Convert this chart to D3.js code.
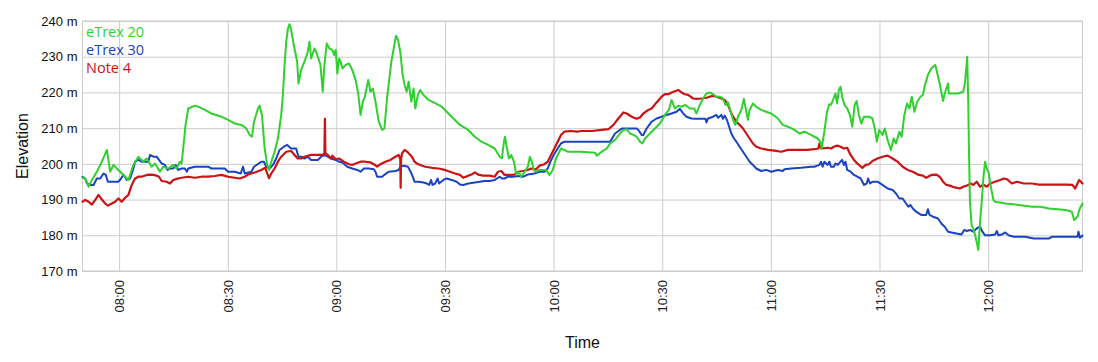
<!DOCTYPE html>
<html>
<head>
<meta charset="utf-8">
<script src="https://cdn.jsdelivr.net/npm/d3@7"></script>
<style>
  html, body { margin: 0; padding: 0; background: #fff; }
  svg { display: block; }
</style>
</head>
<body>
<svg id="chart" width="1098" height="362"></svg>
<script>
// ---------------- DATA ----------------
const seriesNames = ["eTrex 20", "eTrex 30", "Note 4"];
const seriesColors = ["#2fd02f", "#1a43c4", "#cc1212"];
const yTickValues = [170, 180, 190, 200, 210, 220, 230, 240];
const xTickLabels = ["08:00", "08:30", "09:00", "09:30", "10:00", "10:30", "11:00", "11:30", "12:00"];
const timeDomain = ["07:49:53", "12:26:04"];
const elevDomain = [170, 240];

const etrex20 = [
["07:49:53",196.1],["07:50:38",195.9],["07:51:34",193.6],["07:52:29",195.5],["07:53:51",197.8],
["07:55:14",200.6],["07:56:37",203.9],["07:57:31",197.8],["07:58:26",199.7],["07:59:22",198.7],
["08:00:17",197.8],["08:02:34",195.5],["08:03:57",199.7],["08:05:19",202.0],["08:06:42",200.6],
["08:07:37",201.5],["08:08:59",199.2],["08:09:55",200.1],["08:11:17",197.8],["08:12:12",199.2],
["08:13:35",198.7],["08:14:57",199.7],["08:15:52",198.7],["08:16:47",200.6],["08:17:15",200.1],
["08:17:42",204.3],["08:18:21",210.9],["08:19:05",215.5],["08:20:55",216.3],["08:21:50",216.0],
["08:23:40",215.1],["08:25:30",214.1],["08:28:15",213.2],["08:30:05",212.3],["08:31:56",211.3],
["08:33:46",210.9],["08:35:08",209.9],["08:36:03",208.1],["08:36:42",207.6],["08:37:15",211.8],
["08:38:21",215.5],["08:38:48",216.3],["08:39:27",213.7],["08:40:11",204.3],["08:40:55",199.7],
["08:41:23",198.3],["08:42:01",200.6],["08:42:56",203.4],["08:43:51",207.1],["08:44:46",213.7],
["08:45:14",219.3],["08:45:41",227.7],["08:46:09",234.2],["08:46:37",237.9],["08:47:04",239.1],
["08:47:31",237.5],["08:47:59",234.7],["08:48:26",232.3],["08:49:10",228.6],["08:49:32",222.5],
["08:50:17",226.3],["08:51:11",228.6],["08:52:07",231.4],["08:52:34",234.2],["08:53:02",229.5],
["08:53:56",232.3],["08:54:24",231.4],["08:55:03",229.5],["08:55:36",227.7],["08:56:14",220.2],
["08:56:42",227.7],["08:57:20",233.7],["08:58:04",232.3],["08:58:54",231.9],["08:59:22",230.5],
["08:59:49",231.9],["09:00:16",225.3],["09:00:44",229.5],["09:01:11",228.6],["09:01:39",226.7],
["09:02:34",227.7],["09:03:29",228.1],["09:04:23",226.3],["09:05:18",223.5],["09:06:02",219.7],
["09:06:41",213.7],["09:07:19",217.4],["09:07:52",218.8],["09:08:47",223.5],["09:09:25",220.2],
["09:10:04",221.1],["09:10:48",217.4],["09:11:43",211.8],["09:12:38",209.5],["09:13:16",209.9],
["09:14:00",218.4],["09:15:11",228.6],["09:15:50",232.3],["09:16:28",235.9],["09:17:01",234.7],
["09:17:39",231.4],["09:18:18",224.9],["09:18:51",222.1],["09:19:24",220.2],["09:19:57",223.0],
["09:20:41",217.4],["09:21:19",221.1],["09:21:47",215.5],["09:22:31",219.3],["09:23:09",220.7],
["09:24:04",219.3],["09:25:26",217.9],["09:27:16",217.0],["09:29:06",216.0],["09:30:28",214.6],
["09:32:18",212.7],["09:34:08",210.9],["09:36:25",209.5],["09:38:14",207.6],["09:40:04",206.2],
["09:41:54",205.3],["09:43:44",204.3],["09:45:06",202.0],["09:45:44",201.5],["09:46:17",206.2],
["09:46:34",207.6],["09:47:07",204.3],["09:47:40",201.5],["09:48:18",202.5],["09:49:02",200.6],
["09:49:41",196.9],["09:50:19",197.8],["09:51:03",196.4],["09:51:58",197.8],["09:52:53",199.2],
["09:53:26",202.0],["09:53:59",200.6],["09:54:32",198.3],["09:55:10",197.8],["09:56:05",198.3],
["09:57:55",198.3],["09:58:50",196.9],["09:59:45",198.3],["10:00:40",201.5],["10:02:02",204.3],
["10:03:52",203.4],["10:07:31",203.4],["10:11:28",203.1],["10:11:56",202.3],["10:13:18",203.4],
["10:14:41",204.3],["10:15:36",205.7],["10:16:58",206.7],["10:18:21",208.5],["10:19:16",209.5],
["10:20:11",209.7],["10:21:06",208.5],["10:22:01",208.1],["10:22:56",207.6],["10:23:51",206.2],
["10:24:30",205.7],["10:25:14",207.1],["10:26:36",208.5],["10:27:59",209.9],["10:29:22",211.3],
["10:30:44",213.7],["10:31:50",215.1],["10:32:34",217.9],["10:33:29",215.5],["10:34:24",216.3],
["10:35:19",216.0],["10:36:25",216.5],["10:37:37",215.5],["10:38:48",215.5],["10:39:27",214.1],
["10:40:22",216.5],["10:41:17",218.3],["10:42:12",219.7],["10:43:07",220.0],["10:44:02",219.5],
["10:44:57",218.8],["10:45:52",218.8],["10:46:47",218.3],["10:47:26",216.5],["10:48:10",217.2],
["10:48:54",214.6],["10:49:33",212.3],["10:50:11",210.9],["10:50:55",213.2],["10:51:50",215.1],
["10:52:34",218.2],["10:53:13",214.6],["10:53:40",212.3],["10:54:08",215.1],["10:55:03",216.9],
["10:55:58",216.0],["10:57:20",215.1],["10:58:43",214.6],["11:00:05",214.1],["11:01:56",212.7],
["11:03:18",210.9],["11:04:41",210.4],["11:06:31",209.5],["11:07:53",208.5],["11:09:16",209.0],
["11:11:06",208.1],["11:12:56",207.1],["11:13:40",206.2],["11:14:02",204.3],["11:14:46",209.0],
["11:15:30",214.6],["11:16:09",216.7],["11:16:36",216.5],["11:17:11",217.9],["11:17:50",219.7],
["11:18:18",216.9],["11:18:46",220.7],["11:19:14",221.6],["11:19:41",218.8],["11:20:20",216.5],
["11:21:05",215.5],["11:21:50",213.7],["11:22:29",210.4],["11:23:08",216.5],["11:23:41",217.6],
["11:24:20",213.7],["11:24:59",211.3],["11:25:44",213.2],["11:27:07",213.2],["11:28:03",212.7],
["11:28:42",209.9],["11:29:16",206.2],["11:29:55",209.5],["11:30:50",208.1],["11:31:29",209.9],
["11:32:14",206.7],["11:33:09",203.9],["11:33:54",207.1],["11:34:33",205.7],["11:35:29",209.0],
["11:36:08",207.6],["11:36:52",213.7],["11:37:37",216.9],["11:38:16",215.5],["11:38:55",218.8],
["11:39:39",214.6],["11:40:24",217.4],["11:41:20",218.8],["11:41:59",219.3],["11:42:27",221.6],
["11:43:22",224.9],["11:44:18",226.7],["11:45:25",227.7],["11:45:58",225.3],["11:46:37",222.5],
["11:47:33",217.6],["11:48:01",219.7],["11:48:56",222.5],["11:49:08",219.7],["11:50:20",219.7],
["11:51:44",219.7],["11:53:07",220.2],["11:53:35",222.5],["11:54:03",227.7],["11:54:14",230.0],
["11:54:31",217.4],["11:54:42",204.3],["11:54:59",189.4],["11:55:26",182.9],["11:56:11",181.0],
["11:56:50",178.2],["11:57:18",175.9],["11:57:46",183.8],["11:58:14",189.4],["11:58:41",195.9],
["11:59:09",200.6],["11:59:37",198.7],["12:00:05",197.8],["12:00:50",193.1],["12:01:29",189.9],
["12:01:56",189.4],["12:04:44",188.9],["12:08:26",188.5],["12:12:09",188.0],["12:14:29",188.0],
["12:16:48",187.5],["12:21:26",187.1],["12:23:07",186.6],["12:23:46",184.3],["12:24:41",185.2],
["12:25:20",187.5],["12:26:04",188.9]
];

const etrex30 = [
["07:49:53",196.4],["07:50:38",195.9],["07:51:06",194.5],["07:52:01",194.1],["07:52:56",194.1],
["07:53:51",195.9],["07:54:46",195.9],["07:55:41",197.3],["07:56:20",196.9],["07:56:53",195.0],
["07:59:49",195.0],["08:00:33",195.9],["08:01:12",197.0],["08:02:07",195.5],["08:03:02",195.9],
["08:03:57",198.7],["08:04:24",200.6],["08:05:19",201.1],["08:06:14",200.6],["08:08:04",200.6],
["08:08:32",202.5],["08:09:27",202.0],["08:10:22",202.0],["08:11:01",201.1],["08:11:45",200.1],
["08:12:40",199.7],["08:13:24",198.3],["08:14:02",198.7],["08:14:57",198.7],["08:15:36",199.7],
["08:16:20",198.3],["08:17:15",198.7],["08:18:10",198.7],["08:18:43",197.8],["08:19:05",198.7],
["08:20:55",199.2],["08:24:35",199.2],["08:25:30",198.7],["08:29:10",198.7],["08:30:05",197.8],
["08:31:56",197.8],["08:33:35",197.3],["08:34:13",199.2],["08:34:41",197.3],["08:36:31",197.8],
["08:37:15",199.2],["08:39:16",200.6],["08:40:00",200.6],["08:40:39",199.2],["08:41:34",198.7],
["08:42:29",199.7],["08:43:24",201.5],["08:44:19",203.9],["08:45:30",204.8],["08:46:25",205.3],
["08:47:31",204.3],["08:48:53",204.3],["08:49:32",202.0],["08:50:17",202.0],["08:51:11",201.5],
["08:52:07",202.0],["08:53:02",201.1],["08:54:52",201.1],["08:55:47",202.0],["08:56:42",202.5],
["08:57:37",202.0],["08:58:32",201.5],["08:59:49",201.1],["09:00:44",200.6],["09:01:39",200.4],
["09:03:01",199.2],["09:04:23",198.7],["09:05:46",198.3],["09:06:41",197.8],["09:07:36",198.7],
["09:08:58",198.7],["09:10:20",198.5],["09:10:48",197.8],["09:11:15",196.4],["09:12:38",196.4],
["09:13:21",197.0],["09:14:27",197.8],["09:16:17",198.0],["09:17:12",198.3],["09:17:39",199.2],
["09:18:34",199.5],["09:19:46",199.2],["09:20:24",198.0],["09:20:52",197.0],["09:21:35",195.0],
["09:22:41",195.0],["09:24:04",194.8],["09:24:59",194.5],["09:25:37",194.1],["09:26:10",195.5],
["09:26:32",194.1],["09:27:16",194.5],["09:27:59",195.9],["09:28:21",194.5],["09:29:33",195.5],
["09:30:28",195.9],["09:31:50",195.5],["09:33:13",195.0],["09:34:08",194.2],["09:35:03",194.1],
["09:36:25",194.5],["09:38:14",194.8],["09:39:37",195.0],["09:40:59",195.2],["09:42:21",195.2],
["09:43:44",195.5],["09:45:06",196.4],["09:45:44",195.9],["09:46:28",195.9],["09:47:23",196.4],
["09:48:45",196.4],["09:50:07",196.6],["09:51:29",196.4],["09:52:52",197.0],["09:54:42",197.3],
["09:56:05",197.8],["09:57:27",197.8],["09:58:22",198.7],["09:59:06",200.6],["10:00:01",202.5],
["10:01:07",204.3],["10:02:02",205.7],["10:02:57",206.2],["10:15:36",206.2],["10:16:58",208.5],
["10:18:49",209.9],["10:22:56",209.9],["10:23:24",209.5],["10:24:19",208.1],["10:24:46",208.1],
["10:25:41",209.9],["10:27:04",211.8],["10:28:26",212.7],["10:29:49",213.2],["10:31:12",213.7],
["10:32:34",214.1],["10:33:57",214.6],["10:34:52",215.4],["10:35:47",214.1],["10:36:42",213.2],
["10:38:04",212.7],["10:39:27",212.6],["10:41:56",212.6],["10:42:12",211.6],["10:42:40",212.7],
["10:44:02",213.2],["10:44:57",213.7],["10:45:25",212.9],["10:46:20",213.7],["10:46:47",212.6],
["10:47:15",213.5],["10:47:53",212.3],["10:48:38",209.9],["10:49:05",208.5],["10:49:49",207.1],
["10:50:28",206.2],["10:51:23",204.8],["10:52:18",203.4],["10:53:13",202.0],["10:54:08",200.6],
["10:55:03",199.7],["10:55:58",198.7],["10:57:20",198.0],["10:58:43",198.3],["11:00:05",197.8],
["11:01:56",198.3],["11:03:18",198.0],["11:03:46",198.5],["11:05:36",198.7],["11:08:21",198.9],
["11:11:06",199.2],["11:12:01",199.2],["11:13:24",199.7],["11:13:51",200.6],["11:14:18",199.2],
["11:14:46",200.6],["11:15:41",199.7],["11:16:09",200.6],["11:16:36",199.2],["11:17:22",199.2],
["11:17:50",200.1],["11:18:29",199.7],["11:19:14",200.6],["11:19:41",201.1],["11:20:09",199.7],
["11:20:37",200.6],["11:21:05",198.3],["11:22:01",197.8],["11:22:57",196.9],["11:23:52",196.4],
["11:24:48",195.9],["11:25:44",194.1],["11:26:28",194.5],["11:26:51",195.9],["11:27:24",194.5],
["11:28:03",195.0],["11:29:27",195.0],["11:30:50",194.1],["11:32:14",193.1],["11:33:37",192.7],
["11:34:33",191.7],["11:35:29",190.3],["11:36:24",190.3],["11:37:20",188.9],["11:37:59",188.0],
["11:38:33",188.5],["11:39:12",187.5],["11:40:07",186.6],["11:41:31",185.7],["11:42:54",185.7],
["11:43:22",187.3],["11:43:50",185.7],["11:44:46",185.2],["11:46:09",184.7],["11:47:05",183.3],
["11:48:01",182.4],["11:48:56",181.0],["11:49:52",180.8],["11:51:16",180.5],["11:52:39",180.2],
["11:53:24",181.5],["11:54:03",181.2],["11:54:59",181.5],["11:55:54",181.0],["11:56:50",181.9],
["11:57:46",182.4],["11:58:25",181.0],["11:59:09",180.0],["12:00:33",180.0],["12:01:56",180.2],
["12:02:24",181.2],["12:02:52",180.0],["12:03:47",180.2],["12:04:44",180.8],["12:05:39",180.0],
["12:07:03",179.6],["12:10:18",179.6],["12:12:37",179.1],["12:16:48",179.1],["12:17:43",179.6],
["12:24:41",179.6],["12:24:58",181.0],["12:25:20",179.3],["12:26:04",179.9]
];

const note4 = [
["07:49:53",189.4],["07:50:38",189.9],["07:51:34",189.4],["07:52:29",188.6],["07:53:24",189.9],
["07:54:19",191.3],["07:55:14",190.0],["07:56:09",188.9],["07:56:53",188.3],["07:57:59",188.9],
["07:58:54",189.4],["07:59:49",190.3],["08:00:44",189.4],["08:01:39",190.5],["08:02:34",191.3],
["08:03:29",194.1],["08:04:24",195.9],["08:05:19",196.4],["08:06:14",196.4],["08:07:37",196.9],
["08:08:59",197.0],["08:10:22",196.7],["08:11:01",196.4],["08:11:45",195.2],["08:13:07",195.0],
["08:14:02",194.5],["08:14:57",195.5],["08:15:52",195.8],["08:17:15",196.1],["08:19:05",196.4],
["08:20:55",196.1],["08:22:45",196.4],["08:24:35",196.4],["08:26:25",196.6],["08:28:15",196.9],
["08:30:05",196.4],["08:31:56",196.1],["08:33:18",195.9],["08:34:41",196.4],["08:35:36",197.0],
["08:37:26",197.6],["08:39:16",198.3],["08:40:22",198.9],["08:40:55",197.3],["08:41:23",196.0],
["08:42:01",197.3],["08:42:56",198.7],["08:43:51",200.6],["08:44:46",202.0],["08:46:09",203.4],
["08:47:31",203.6],["08:48:26",202.5],["08:49:21",201.5],["08:50:17",201.5],["08:51:11",202.0],
["08:53:02",202.5],["08:54:52",202.5],["08:56:14",202.5],["08:56:42",203.0],["08:56:50",212.6],
["08:56:58",203.0],["08:57:37",202.5],["08:58:32",201.5],["08:58:54",202.3],["08:59:49",201.3],
["09:00:44",201.5],["09:02:06",200.6],["09:03:29",199.9],["09:04:23",199.7],["09:05:18",200.1],
["09:06:41",200.6],["09:08:03",200.6],["09:09:25",200.4],["09:10:20",199.9],["09:11:15",199.2],
["09:12:10",199.9],["09:13:32",200.6],["09:14:55",201.1],["09:16:17",202.0],["09:17:12",202.5],
["09:17:39",201.3],["09:17:45",193.3],["09:17:52",201.3],["09:18:07",202.9],["09:18:51",203.9],
["09:19:46",203.2],["09:20:52",202.0],["09:21:35",200.6],["09:22:14",200.1],["09:23:09",199.7],
["09:24:31",199.2],["09:26:21",198.9],["09:28:11",198.7],["09:30:00",198.3],["09:31:23",197.8],
["09:32:45",197.3],["09:34:08",196.9],["09:35:03",196.1],["09:36:25",196.7],["09:37:20",197.0],
["09:38:14",197.6],["09:39:09",197.0],["09:40:32",196.7],["09:42:21",196.7],["09:43:44",196.4],
["09:44:39",197.8],["09:45:33",198.0],["09:46:28",196.9],["09:47:51",196.9],["09:49:13",197.0],
["09:50:08",197.8],["09:51:30",198.0],["09:52:52",198.3],["09:53:47",198.7],["09:55:10",198.5],
["09:56:05",199.5],["09:57:27",199.9],["09:58:22",200.6],["09:59:17",202.5],["10:00:12",204.3],
["10:01:07",206.2],["10:02:02",208.1],["10:02:57",209.0],["10:04:47",209.2],["10:06:36",209.0],
["10:07:31",209.2],["10:10:33",209.2],["10:13:18",209.5],["10:15:08",209.7],["10:16:31",210.9],
["10:17:53",212.7],["10:19:16",214.4],["10:20:11",214.1],["10:21:34",213.2],["10:22:56",212.6],
["10:23:51",213.0],["10:24:46",214.1],["10:26:09",215.1],["10:27:04",215.5],["10:28:26",217.2],
["10:29:49",218.8],["10:30:44",219.5],["10:31:39",219.5],["10:32:34",220.0],["10:33:40",220.4],
["10:34:24",220.7],["10:35:19",220.0],["10:36:14",219.5],["10:37:09",219.3],["10:38:32",218.3],
["10:39:27",218.2],["10:40:50",218.3],["10:42:12",218.5],["10:43:07",218.8],["10:44:02",219.1],
["10:44:57",218.8],["10:46:20",218.3],["10:47:15",217.9],["10:48:10",216.5],["10:48:54",214.6],
["10:49:33",213.2],["10:50:28",211.8],["10:51:23",210.9],["10:52:18",209.9],["10:53:13",208.5],
["10:54:08",207.1],["10:55:03",205.7],["10:55:58",204.8],["10:57:20",204.3],["10:59:10",203.9],
["11:01:00",203.7],["11:02:51",203.4],["11:04:41",203.9],["11:07:26",203.9],["11:10:11",203.9],
["11:12:01",204.1],["11:13:07",204.3],["11:13:24",205.7],["11:13:51",204.3],["11:15:41",204.5],
["11:16:36",204.3],["11:17:22",204.8],["11:18:18",205.1],["11:19:14",204.8],["11:20:09",204.3],
["11:21:05",204.5],["11:22:01",202.5],["11:22:57",201.1],["11:23:52",200.1],["11:25:16",198.9],
["11:26:12",199.7],["11:27:07",199.9],["11:28:03",200.8],["11:29:27",201.5],["11:30:50",202.0],
["11:32:14",202.3],["11:33:37",201.5],["11:35:01",200.6],["11:36:24",199.2],["11:37:48",198.3],
["11:39:12",197.8],["11:40:35",197.0],["11:41:59",196.7],["11:42:54",196.1],["11:44:18",196.9],
["11:45:42",197.0],["11:46:37",196.4],["11:47:33",195.0],["11:48:29",194.1],["11:49:24",193.9],
["11:50:48",193.4],["11:52:11",193.1],["11:53:07",193.6],["11:54:03",193.9],["11:55:15",194.5],
["11:55:54",194.1],["11:56:50",195.0],["11:57:46",193.6],["11:58:41",194.2],["11:59:37",193.6],
["12:00:33",194.5],["12:01:56",195.0],["12:03:20",195.5],["12:04:16",195.9],["12:05:11",195.7],
["12:06:35",194.5],["12:07:58",195.0],["12:09:50",194.5],["12:12:09",194.5],["12:14:01",194.2],
["12:17:43",194.2],["12:21:26",194.2],["12:23:18",194.1],["12:24:02",193.1],["12:25:09",195.5],
["12:26:04",194.5]
];

// ---------------- CHART ----------------
const svg = d3.select("#chart");
const margin = { left: 82.5, top: 21, right: 15.5, bottom: 91 };
const W = 1098 - margin.left - margin.right;
const H = 362 - margin.top - margin.bottom;

const parseT = d3.timeParse("%H:%M:%S");
const parseHM = d3.timeParse("%H:%M");

const x = d3.scaleTime().domain(timeDomain.map(parseT)).range([0, W]);
const y = d3.scaleLinear().domain(elevDomain).range([H, 0]);

const g = svg.append("g").attr("transform", `translate(${margin.left},${margin.top})`);

const axisFont = "'Liberation Sans', Arial, Helvetica, sans-serif";

// Y axis with gridlines
const yAxis = g.append("g")
  .call(d3.axisLeft(y).tickValues(yTickValues).tickSize(-W).tickPadding(5).tickFormat(d => d + " m"));
yAxis.select(".domain").remove();
yAxis.selectAll(".tick line").attr("stroke", "#cccccc").attr("stroke-width", 1);
yAxis.selectAll(".tick text").attr("fill", "#111").style("font-family", axisFont).style("font-size", "13px");

// X axis with gridlines
const xAxis = g.append("g").attr("transform", `translate(0,${H})`)
  .call(d3.axisBottom(x).tickValues(xTickLabels.map(parseHM)).tickSize(-H).tickFormat(d3.timeFormat("%H:%M")));
xAxis.select(".domain").remove();
xAxis.selectAll(".tick line").attr("stroke", "#cccccc").attr("stroke-width", 1);
xAxis.selectAll(".tick text")
  .attr("transform", "rotate(-90)")
  .attr("text-anchor", "end")
  .attr("x", -9).attr("y", 0).attr("dy", "0.35em")
  .attr("fill", "#222")
  .style("font-family", axisFont).style("font-size", "13px");

// Border
g.append("rect").attr("x", 0).attr("y", 0).attr("width", W).attr("height", H)
  .attr("fill", "none").attr("stroke", "#cccccc").attr("stroke-width", 1);

// Lines
const line = d3.line().x(d => x(parseT(d[0]))).y(d => y(d[1])).curve(d3.curveLinear);
const drawOrder = [[etrex30, 1, 2], [note4, 2, 2.2], [etrex20, 0, 2]];
drawOrder.forEach(([data, ci, sw]) => {
  g.append("path").datum(data)
    .attr("d", line)
    .attr("fill", "none")
    .attr("stroke", seriesColors[ci])
    .attr("stroke-width", sw)
    .attr("stroke-linejoin", "round")
    .attr("stroke-linecap", "round");
});

// Legend: stacked lines, one per series
seriesNames.forEach((name, i) => {
  svg.append("text")
    .attr("x", 86).attr("y", 36.5 + i * 18)
    .attr("fill", seriesColors[i])
    .style("font-family", "'Open Sans', 'Noto Sans', sans-serif")
    .style("font-size", "14.5px")
    .text(name);
});

// Axis titles
svg.append("text")
  .attr("transform", `translate(27.5,146) rotate(-90)`)
  .attr("text-anchor", "middle")
  .attr("fill", "#111")
  .style("font-family", axisFont).style("font-size", "16px")
  .text("Elevation");

svg.append("text")
  .attr("x", margin.left + W / 2).attr("y", 348)
  .attr("text-anchor", "middle")
  .attr("fill", "#111")
  .style("font-family", axisFont).style("font-size", "16px")
  .text("Time");
</script>
</body>
</html>
